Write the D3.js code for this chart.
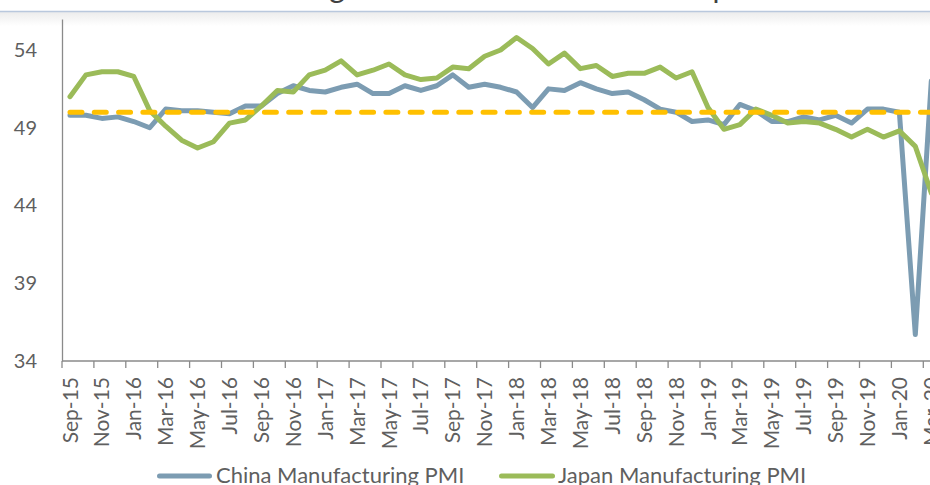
<!DOCTYPE html>
<html>
<head>
<meta charset="utf-8">
<script src="https://cdn.jsdelivr.net/npm/d3@7/dist/d3.min.js"></script>
<style>
  html, body { margin: 0; padding: 0; background: #fff; }
  svg { display: block; }
</style>
</head>
<body>
<svg id="chart" width="930" height="485"></svg>
<script>
// Monthly categories, Sep-2015 to Mar-2020
const categories = [
  "Sep-15","Oct-15","Nov-15","Dec-15",
  "Jan-16","Feb-16","Mar-16","Apr-16","May-16","Jun-16","Jul-16","Aug-16","Sep-16","Oct-16","Nov-16","Dec-16",
  "Jan-17","Feb-17","Mar-17","Apr-17","May-17","Jun-17","Jul-17","Aug-17","Sep-17","Oct-17","Nov-17","Dec-17",
  "Jan-18","Feb-18","Mar-18","Apr-18","May-18","Jun-18","Jul-18","Aug-18","Sep-18","Oct-18","Nov-18","Dec-18",
  "Jan-19","Feb-19","Mar-19","Apr-19","May-19","Jun-19","Jul-19","Aug-19","Sep-19","Oct-19","Nov-19","Dec-19",
  "Jan-20","Feb-20","Mar-20"
];

const chinaPMI = [
  49.8, 49.8, 49.6, 49.7,
  49.4, 49.0, 50.2, 50.1, 50.1, 50.0, 49.9, 50.4, 50.4, 51.2, 51.7, 51.4,
  51.3, 51.6, 51.8, 51.2, 51.2, 51.7, 51.4, 51.7, 52.4, 51.6, 51.8, 51.6,
  51.3, 50.3, 51.5, 51.4, 51.9, 51.5, 51.2, 51.3, 50.8, 50.2, 50.0, 49.4,
  49.5, 49.2, 50.5, 50.1, 49.4, 49.4, 49.7, 49.5, 49.8, 49.3, 50.2, 50.2,
  50.0, 35.7, 52.0
];

const japanPMI = [
  51.0, 52.4, 52.6, 52.6,
  52.3, 50.1, 49.1, 48.2, 47.7, 48.1, 49.3, 49.5, 50.4, 51.4, 51.3, 52.4,
  52.7, 53.3, 52.4, 52.7, 53.1, 52.4, 52.1, 52.2, 52.9, 52.8, 53.6, 54.0,
  54.8, 54.1, 53.1, 53.8, 52.8, 53.0, 52.3, 52.5, 52.5, 52.9, 52.2, 52.6,
  50.3, 48.9, 49.2, 50.2, 49.8, 49.3, 49.4, 49.3, 48.9, 48.4, 48.9, 48.4,
  48.8, 47.8, 44.8
];

// Expansion / contraction threshold
const threshold = 50;

const yTicks = [34, 39, 44, 49, 54];
const yDomain = [34, 56];

const seriesNames = ["China Manufacturing PMI", "Japan Manufacturing PMI"];
const seriesColors = ["#7c9cb2", "#9bbb59"];
const thresholdColor = "#ffc000";

const TITLE = "Manufacturing Health Check: China and Japan";

const FONT = "Lato, 'Open Sans', sans-serif";
const TEXT_COLOR = "#5f5f5f";
const AXIS_COLOR = "#8a8a8a";

const svg = d3.select("#chart");

// Header band: thin rule with a soft shadow under it
const defs = svg.append("defs");
const grad = defs.append("linearGradient")
  .attr("id", "headShadow").attr("x1", 0).attr("y1", 0).attr("x2", 0).attr("y2", 1);
grad.append("stop").attr("offset", "0%").attr("stop-color", "#ececec");
grad.append("stop").attr("offset", "100%").attr("stop-color", "#ffffff");
svg.append("rect").attr("x", 0).attr("y", 12).attr("width", 930).attr("height", 14)
  .attr("fill", "url(#headShadow)");
svg.append("line").attr("x1", 0).attr("x2", 930).attr("y1", 11.5).attr("y2", 11.5)
  .attr("stroke", "#b9c8dd").attr("stroke-width", 1.5);

// Title sits mostly above the visible area; only descenders show
const title = svg.append("text")
  .attr("font-family", "Lato, sans-serif")
  .attr("font-size", 30)
  .attr("fill", "#404040")
  .attr("y", -2)
  .text(TITLE);
(function placeTitle() {
  const node = title.node();
  const gi = TITLE.indexOf("g");
  const pi = TITLE.indexOf("p");
  const gExt = node.getExtentOfChar(gi);
  const pExt = node.getExtentOfChar(pi);
  const gx = gExt.x + gExt.width / 2;
  const px = pExt.x + pExt.width * 0.2;
  const fs = 30 * 379 / (px - gx);
  title.attr("font-size", fs);
  const g2 = node.getExtentOfChar(gi);
  title.attr("x", 337 - (g2.x + g2.width / 2));
})();

// Scales
const plotLeft = 62;
const bandW = 15.95;
const x = d3.scaleBand()
  .domain(categories)
  .range([plotLeft, plotLeft + bandW * categories.length])
  .padding(0);
const cx = c => x(c) + x.bandwidth() / 2;

const y = d3.scaleLinear().domain(yDomain).range([361, 361 - 22 * 15.55]);

// Y axis (no tick marks)
const yAxis = svg.append("g")
  .attr("transform", `translate(${plotLeft},0)`)
  .call(d3.axisLeft(y).tickValues(yTicks).tickSize(0).tickPadding(25).tickFormat(d3.format("d")));
yAxis.select(".domain").attr("stroke", AXIS_COLOR).attr("stroke-width", 1.3);
yAxis.selectAll("text")
  .attr("font-family", FONT).attr("font-size", 20).attr("fill", TEXT_COLOR);

// X axis line with ticks between every second pair of categories
const xAxis = svg.append("g").attr("transform", `translate(0,${y(yDomain[0])})`);
xAxis.append("line")
  .attr("x1", plotLeft).attr("x2", x.range()[1])
  .attr("stroke", AXIS_COLOR).attr("stroke-width", 1.3);
const labelled = categories.filter((c, i) => i % 2 === 0);
xAxis.selectAll("line.tick").data(labelled).join("line")
  .attr("class", "tick")
  .attr("x1", d => x(d)).attr("x2", d => x(d))
  .attr("y1", 0).attr("y2", 7)
  .attr("stroke", AXIS_COLOR).attr("stroke-width", 1.3);
xAxis.selectAll("text").data(labelled).join("text")
  .attr("transform", d => `translate(${cx(d)},16) rotate(-90)`)
  .attr("text-anchor", "end")
  .attr("dy", "0.36em")
  .attr("font-family", FONT).attr("font-size", 21).attr("fill", TEXT_COLOR)
  .text(d => d);

// Series lines
const line = d3.line()
  .x((d, i) => cx(categories[i]))
  .y(d => y(d));

[chinaPMI, japanPMI].forEach((vals, k) => {
  svg.append("path")
    .datum(vals)
    .attr("d", line)
    .attr("fill", "none")
    .attr("stroke", seriesColors[k])
    .attr("stroke-width", 5)
    .attr("stroke-linejoin", "round")
    .attr("stroke-linecap", "round");
});

// Threshold line at 50
svg.append("line")
  .attr("x1", cx(categories[0])).attr("x2", cx(categories[categories.length - 1]))
  .attr("y1", y(threshold)).attr("y2", y(threshold))
  .attr("stroke", thresholdColor)
  .attr("stroke-width", 5)
  .attr("stroke-linecap", "round")
  .attr("stroke-dasharray", "12,12.3");

// Legend
const legendItems = [
  { name: seriesNames[0], color: seriesColors[0], x0: 157, x1: 212, tx: 216 },
  { name: seriesNames[1], color: seriesColors[1], x0: 499, x1: 555, tx: 558 }
];
const legend = svg.append("g");
legendItems.forEach(it => {
  legend.append("line")
    .attr("x1", it.x0 + 2.5).attr("x2", it.x1 - 2.5)
    .attr("y1", 476).attr("y2", 476)
    .attr("stroke", it.color).attr("stroke-width", 5).attr("stroke-linecap", "round");
  legend.append("text")
    .attr("x", it.tx).attr("y", 483)
    .attr("font-family", FONT).attr("font-size", 22).attr("fill", TEXT_COLOR)
    .text(it.name);
});
</script>
</body>
</html>
